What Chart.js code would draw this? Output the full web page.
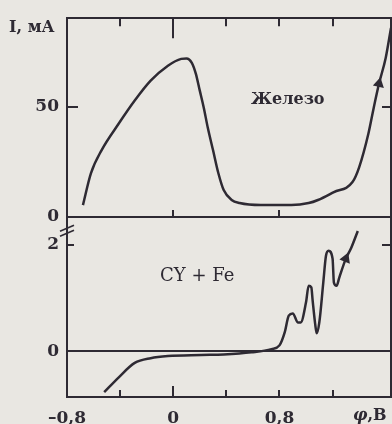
<!DOCTYPE html>
<html>
<head>
<meta charset="utf-8">
<script src="https://cdn.jsdelivr.net/npm/chart.js@4.4.0/dist/chart.umd.min.js"></script>
<style>
  html, body { margin: 0; padding: 0; overflow: hidden; }
  body { width: 392px; height: 424px; background: #e9e7e2; position: relative; font-family: "DejaVu Serif", serif; color: #2e2a33; }
  canvas { position: absolute; left: 0; }
  #topChart { top: 0; }
  #botChart { top: 200px; }
  .lbl { position: absolute; line-height: 1; white-space: nowrap; }
</style>
</head>
<body>
<canvas id="topChart" width="392" height="240"></canvas>
<canvas id="botChart" width="392" height="227"></canvas>
<div class="lbl" style="left:9px; top:19px; font-size:16px; font-weight:bold;">I, мА</div>
<div class="lbl" style="left:251px; top:91px; font-size:16px; font-weight:bold;">Железо</div>
<div class="lbl" style="left:160px; top:266px; font-size:18px;">CY + Fe</div>
<div class="lbl" style="left:353px; top:407px; font-size:16px; font-weight:bold;"><i>φ</i>,В</div>
<script>
// iron electrode, top panel
const topX = [-0.68, -0.62, -0.54, -0.41, -0.29, -0.17, -0.04, 0.06, 0.10, 0.14, 0.17, 0.20, 0.23, 0.26, 0.30, 0.34, 0.38, 0.44, 0.50, 0.66, 0.89, 1.02, 1.09, 1.21, 1.35, 1.40, 1.47, 1.51, 1.55, 1.60, 1.64];
const topY = [5.4, 19.8, 30.2, 42.3, 52.7, 61.7, 68.5, 71.6, 71.8, 69.8, 64.9, 57.2, 49.5, 40.5, 30.2, 19.8, 12.2, 7.7, 6.3, 5.4, 5.4, 6.3, 7.7, 11.3, 15.8, 22.5, 37.8, 49.5, 60.4, 72, 85.6];
// CY + Fe, bottom panel
const botX = [-0.52, -0.41, -0.29, -0.17, -0.04, 0.21, 0.38, 0.59, 0.74, 0.80, 0.84, 0.87, 0.90, 0.94, 0.96, 1.00, 1.02, 1.04, 1.05, 1.07, 1.08, 1.10, 1.13, 1.15, 1.17, 1.20, 1.21, 1.23, 1.25, 1.30, 1.34, 1.39];
const botY = [-0.77, -0.49, -0.22, -0.13, -0.09, -0.07, -0.06, -0.02, 0.04, 0.11, 0.36, 0.67, 0.71, 0.54, 0.54, 0.92, 1.23, 1.2, 0.95, 0.49, 0.34, 0.54, 1.29, 1.79, 1.89, 1.74, 1.29, 1.23, 1.38, 1.74, 1.94, 2.26];

const xTicks = [-0.8, -0.4, 0, 0.4, 0.8, 1.2];
const xLabeled = [-0.8, 0, 0.8];
const xMidTicks = [0, 0.8];
const topYTicks = [0, 50];
const topYRight = [50];
const botYTicks = [0, 2];
const botYRight = [2];

const ink = "#2e2a33";
const tickFont = { family: "DejaVu Serif", size: 17, weight: "bold" };

function setTicks(list) {
  return function(scale) { scale.ticks = list.map(v => ({ value: v })); };
}
function arrowAt(n, idx) {
  return Array.from({ length: n }, (_, i) => i === idx ? 4 : 0);
}

// short tick marks pointing into the plot
const inTicks = {
  id: "inTicks",
  afterDraw(chart, args, opts) {
    const ctx = chart.ctx, a = chart.chartArea;
    ctx.save();
    ctx.strokeStyle = ink;
    ctx.lineWidth = 2;
    Object.keys(opts.len || {}).forEach(id => {
      const s = chart.scales[id];
      s.ticks.forEach(t => {
        const p = Math.round(s.getPixelForValue(t.value));
        const len = (t.value === 0 && opts.zero && opts.zero[id]) || opts.len[id];
        ctx.beginPath();
        if (s.position === "left") { ctx.moveTo(a.left, p); ctx.lineTo(a.left + len, p); }
        else if (s.position === "right") { ctx.moveTo(a.right, p); ctx.lineTo(a.right - len, p); }
        else if (s.position === "top") { ctx.moveTo(p, a.top); ctx.lineTo(p, a.top + len); }
        else { ctx.moveTo(p, a.bottom); ctx.lineTo(p, a.bottom - len); }
        ctx.stroke();
      });
    });
    if (opts.brk) {
      // axis break marks
      ctx.lineWidth = 1.6;
      [0, 5].forEach(d => {
        ctx.beginPath();
        ctx.moveTo(a.left - 7, a.top + 13 + d);
        ctx.lineTo(a.left + 7, a.top + 7 + d);
        ctx.stroke();
      });
    }
    ctx.restore();
  }
};

function axis(pos, extra) {
  return Object.assign({
    type: "linear",
    position: pos,
    grid: { drawOnChartArea: false, drawTicks: false },
    border: { display: true, color: ink, width: 2 },
    ticks: { display: false }
  }, extra);
}

new Chart("topChart", {
  type: "line",
  data: {
    datasets: [{
      data: topX.map((x, i) => ({ x: x, y: topY[i] })),
      borderColor: ink,
      backgroundColor: ink,
      borderWidth: 2.5,
      cubicInterpolationMode: "monotone",
      pointRadius: arrowAt(topX.length, 28),
      pointStyle: "triangle",
      rotation: 12
    }]
  },
  options: {
    responsive: false,
    animation: false,
    layout: { padding: { top: 18, right: 1, bottom: 23, left: 0 } },
    plugins: {
      legend: { display: false },
      tooltip: { enabled: false },
      inTicks: { len: { x: 7, xTop: 8, y: 11, yR: 9 }, zero: { xTop: 20 } }
    },
    scales: {
      x: axis("bottom", { min: -0.8, max: 1.64, afterBuildTicks: setTicks(xMidTicks) }),
      xTop: axis("top", { min: -0.8, max: 1.64, afterBuildTicks: setTicks(xTicks.slice(1)) }),
      y: axis("left", {
        min: 0, max: 90,
        afterBuildTicks: setTicks(topYTicks),
        afterFit: s => { s.width = 67; },
        ticks: { display: true, color: ink, font: tickFont, padding: 8 }
      }),
      yR: axis("right", { min: 0, max: 90, afterBuildTicks: setTicks(topYRight) })
    }
  },
  plugins: [inTicks]
});

new Chart("botChart", {
  type: "line",
  data: {
    datasets: [{
      data: botX.map((x, i) => ({ x: x, y: botY[i] })),
      borderColor: ink,
      backgroundColor: ink,
      borderWidth: 2.5,
      cubicInterpolationMode: "monotone",
      pointRadius: arrowAt(botX.length, 29),
      pointStyle: "triangle",
      rotation: 22
    }]
  },
  options: {
    responsive: false,
    animation: false,
    layout: { padding: { top: 17, right: 1, bottom: 0, left: 0 } },
    plugins: {
      legend: { display: false },
      tooltip: { enabled: false },
      inTicks: { len: { x: 7, y: 7, yR: 9 }, zero: { x: 11 }, brk: true }
    },
    scales: {
      x: axis("bottom", {
        min: -0.8, max: 1.64,
        afterBuildTicks: setTicks(xTicks),
        afterFit: s => { s.height = 30; },
        ticks: {
          display: true, color: ink, font: tickFont, padding: 11, maxRotation: 0, autoSkip: false,
          callback: v => xLabeled.includes(v) ? (v < 0 ? "–" : "") + Math.abs(v).toString().replace(".", ",") : ""
        }
      }),
      y: axis("left", {
        min: -0.86, max: 2.5,
        afterBuildTicks: setTicks(botYTicks),
        afterFit: s => { s.width = 67; },
        grid: {
          drawOnChartArea: true, drawTicks: false, lineWidth: 2,
          color: c => c.tick && c.tick.value === 0 ? ink : "rgba(0,0,0,0)"
        },
        ticks: { display: true, color: ink, font: tickFont, padding: 8 }
      }),
      yR: axis("right", { min: -0.86, max: 2.5, afterBuildTicks: setTicks(botYRight) })
    }
  },
  plugins: [inTicks]
});
</script>
</body>
</html>
